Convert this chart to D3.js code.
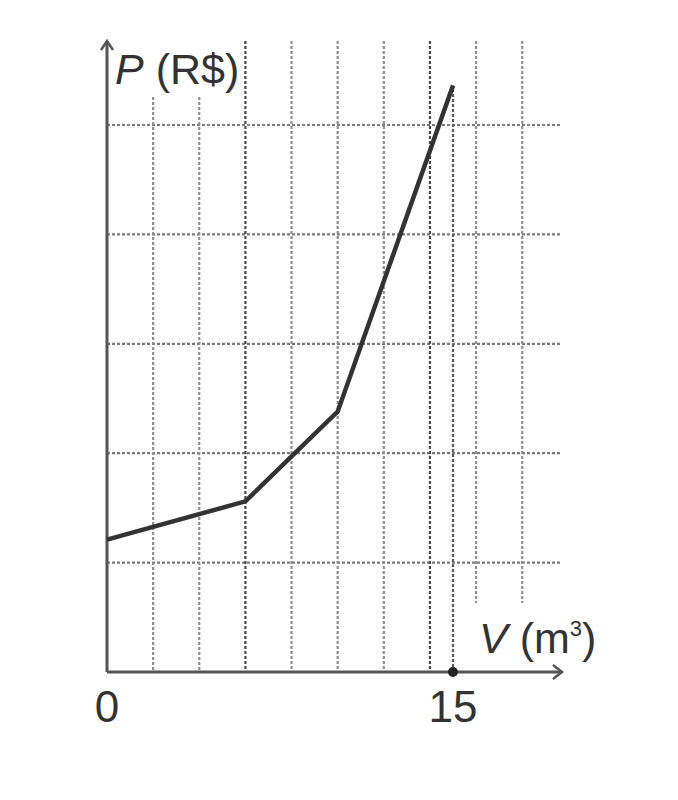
<!DOCTYPE html>
<html>
<head>
<meta charset="utf-8">
<script src="https://cdn.jsdelivr.net/npm/d3@7"></script>
<style>
  html, body { margin: 0; padding: 0; background: #fff; }
  svg { display: block; }
  text { font-family: "Liberation Sans", Arial, sans-serif; fill: #333; }
</style>
</head>
<body>
<script>
// ---- data ----
const volume = [0, 6, 10, 15];          // V (m³)
const price = [1.21, 1.56, 2.38, 5.36]; // P (R$), in grid units
const xTickLabels = [0, 15];
const gridV = [2, 4, 6, 8, 10, 12, 14, 16, 18];
const gridP = [1, 2, 3, 4, 5];
const markedV = [15];

// ---- layout ----
const W = 678, H = 800;
const svg = d3.select("body").append("svg").attr("width", W).attr("height", H);

const x = d3.scaleLinear().domain([0, 15]).range([107, 453]);
const y = d3.scaleLinear().domain([0, 5]).range([672, 125]);

const xMax = x.invert(562);
const yMax = y.invert(41);

const g = svg.append("g");

// horizontal grid
g.selectAll(".gh").data(gridP).join("line")
  .attr("x1", x(0)).attr("x2", x(xMax))
  .attr("y1", d => y(d)).attr("y2", d => y(d))
  .attr("stroke", "#7a7a7a").attr("stroke-width", 2.2)
  .attr("stroke-dasharray", "3,2");

// vertical grid
g.selectAll(".gv").data(gridV).join("line")
  .attr("x1", d => x(d)).attr("x2", d => x(d))
  .attr("y1", d => y(d <= 4 ? y.invert(97) : yMax))
  .attr("y2", d => y(d >= 16 ? y.invert(603) : 0))
  .attr("stroke", d => (d === 6 || d === 14) ? "#4a4a4a" : "#8f8f8f")
  .attr("stroke-width", 2.2)
  .attr("stroke-dasharray", "3,2");

// dotted marker line at V=15 up to the curve
g.selectAll(".gm").data(markedV).join("line")
  .attr("x1", d => x(d)).attr("x2", d => x(d))
  .attr("y1", y(0)).attr("y2", y(price[price.length - 1]))
  .attr("stroke", "#5a5a5a").attr("stroke-width", 2.2)
  .attr("stroke-dasharray", "3,2");

// axes
const axisColor = "#555";
g.append("line").attr("x1", x(0)).attr("x2", x(xMax))
  .attr("y1", y(0)).attr("y2", y(0))
  .attr("stroke", axisColor).attr("stroke-width", 3);
g.append("line").attr("x1", x(0)).attr("x2", x(0))
  .attr("y1", y(0)).attr("y2", y(yMax))
  .attr("stroke", axisColor).attr("stroke-width", 3);

// arrowheads
g.append("path")
  .attr("d", `M${x(xMax) - 9},${y(0) - 7} L${x(xMax)},${y(0)} L${x(xMax) - 9},${y(0) + 7}`)
  .attr("fill", "none").attr("stroke", axisColor).attr("stroke-width", 2.5);
g.append("path")
  .attr("d", `M${x(0) - 6},${y(yMax) + 9} L${x(0)},${y(yMax)} L${x(0) + 6},${y(yMax) + 9}`)
  .attr("fill", "none").attr("stroke", axisColor).attr("stroke-width", 2.5);

// curve
const pts = volume.map((v, i) => [v, price[i]]);
g.append("path")
  .datum(pts)
  .attr("d", d3.line().x(d => x(d[0])).y(d => y(d[1])))
  .attr("fill", "none").attr("stroke", "#333").attr("stroke-width", 4.5)
  .attr("stroke-linejoin", "miter");

// marker dot
g.selectAll(".dot").data(markedV).join("circle")
  .attr("cx", d => x(d)).attr("cy", y(0)).attr("r", 5).attr("fill", "#222");

// tick labels
g.selectAll(".tl").data(xTickLabels).join("text")
  .attr("x", d => x(d)).attr("y", 722)
  .attr("text-anchor", "middle").attr("font-size", 44)
  .text(d => d);

// axis titles
const pt = g.append("text").attr("x", 115).attr("y", 84).attr("font-size", 43);
pt.append("tspan").attr("font-style", "italic").text("P");
pt.append("tspan").text(" (R$)");

const vt = g.append("text").attr("x", 479).attr("y", 653).attr("font-size", 43);
vt.append("tspan").attr("font-style", "italic").text("V");
vt.append("tspan").text(" (m");
vt.append("tspan").attr("font-size", 22).attr("dy", -17).text("3");
vt.append("tspan").attr("dy", 17).text(")");
</script>
</body>
</html>
